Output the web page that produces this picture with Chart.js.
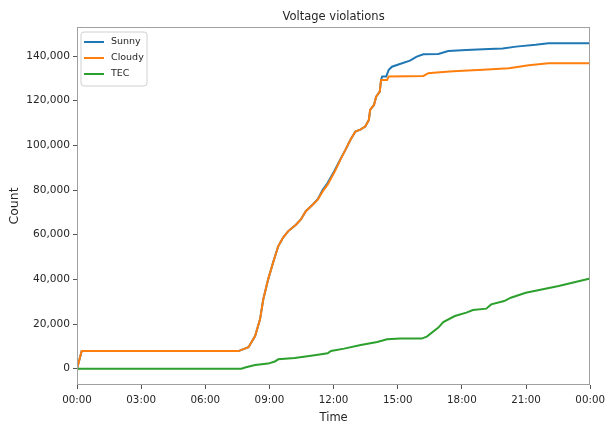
<!DOCTYPE html>
<html>
<head>
<meta charset="utf-8">
<script src="https://cdn.jsdelivr.net/npm/chart.js@4.4.1/dist/chart.umd.min.js"></script>
<style>
  html, body { margin: 0; padding: 0; background: #fff; }
  #wrap { width: 610px; height: 425px; }
</style>
</head>
<body>
<div id="wrap"><canvas id="chart" width="610" height="425"></canvas></div>
<script>
// Cumulative voltage violation counts over one day (time in hours since 00:00)
const sunnyHours = [0, 0.22, 7.55, 8.02, 8.33, 8.56, 8.71, 8.94, 9.17, 9.41, 9.64, 9.87, 10.24, 10.47, 10.70, 11.03, 11.26, 11.49, 11.72, 12.03, 12.32, 12.56, 12.79, 13.02, 13.25, 13.48, 13.65, 13.71, 13.89, 13.99, 14.16, 14.22, 14.27, 14.46, 14.58, 14.73, 15.10, 15.57, 15.89, 16.20, 16.90, 17.36, 18.21, 19.27, 19.91, 20.53, 21.45, 22.05, 24];
const sunnyCounts = [0, 7900, 7900, 9600, 14650, 22100, 31000, 40000, 47500, 54800, 58700, 61500, 64500, 66800, 70500, 73500, 75900, 80100, 83100, 88400, 93800, 98100, 102500, 106200, 107000, 108400, 111400, 115900, 118100, 121800, 124100, 129300, 130800, 130800, 133800, 135200, 136400, 137900, 139700, 140800, 140900, 142200, 142700, 143100, 143400, 144200, 145000, 145700, 145700];

const cloudyHours = [0, 0.22, 7.55, 8.02, 8.33, 8.56, 8.71, 8.94, 9.17, 9.41, 9.64, 9.87, 10.24, 10.47, 10.70, 11.03, 11.26, 11.49, 11.72, 12.03, 12.32, 12.56, 12.79, 13.02, 13.25, 13.48, 13.65, 13.71, 13.89, 13.99, 14.16, 14.22, 14.50, 14.58, 16.20, 16.43, 16.82, 17.59, 18.98, 20.20, 21.13, 22.05, 24];
const cloudyCounts = [0, 7900, 7900, 9600, 14650, 22100, 31000, 40000, 47500, 54800, 58700, 61500, 64500, 66800, 70500, 73500, 75700, 79400, 82400, 87800, 93600, 98100, 102500, 106200, 107000, 108400, 111400, 115900, 118100, 121800, 124100, 129300, 129300, 130800, 131100, 132300, 132600, 133200, 133800, 134500, 135900, 136800, 136800];

const tecHours = [0, 7.69, 7.86, 8.33, 8.94, 9.25, 9.41, 10.18, 11.11, 11.72, 11.88, 12.49, 13.27, 14.04, 14.50, 15.12, 16.12, 16.36, 16.90, 17.13, 17.67, 18.21, 18.52, 19.14, 19.37, 19.98, 20.29, 20.99, 22.53, 23.31, 24];
const tecCounts = [0, 0, 540, 1700, 2300, 3200, 4200, 4800, 6000, 6900, 7950, 9000, 10600, 12000, 13200, 13500, 13500, 14400, 18400, 20900, 23600, 25100, 26300, 26900, 28800, 30300, 31800, 34000, 37000, 38800, 40400];

const seriesNames = ['Sunny', 'Cloudy', 'TEC'];
const seriesColors = ['#1f77b4', '#ff7f0e', '#2ca02c'];

const xTickHours = [0, 3, 6, 9, 12, 15, 18, 21, 24];
const xTickLabels = ['00:00', '03:00', '06:00', '09:00', '12:00', '15:00', '18:00', '21:00', '00:00'];
const yTicks = [0, 20000, 40000, 60000, 80000, 100000, 120000, 140000];

const FONT = "'DejaVu Sans', sans-serif";
const TEXT = '#262626';
const SPINE = '#a0a0a0';

const toPoints = (xs, ys) => xs.map((x, i) => ({ x: x, y: ys[i] }));

// Frame around the axes (all four spines)
const framePlugin = {
  id: 'frame',
  afterDatasetsDraw(chart) {
    const { ctx, chartArea: a } = chart;
    ctx.save();
    ctx.strokeStyle = SPINE;
    ctx.lineWidth = 1;
    ctx.strokeRect(Math.round(a.left) + 0.5, Math.round(a.top) + 0.5,
                   Math.round(a.right - a.left) - 1, Math.round(a.bottom - a.top) - 1);
    ctx.restore();
  }
};

// Boxed legend in the upper-left corner of the axes
const boxLegend = {
  id: 'boxLegend',
  afterDraw(chart) {
    const { ctx, chartArea: a } = chart;
    const x0 = a.left + 4, y0 = a.top + 5, w = 66, h = 54, r = 3;
    ctx.save();
    ctx.beginPath();
    ctx.moveTo(x0 + r, y0);
    ctx.arcTo(x0 + w, y0, x0 + w, y0 + h, r);
    ctx.arcTo(x0 + w, y0 + h, x0, y0 + h, r);
    ctx.arcTo(x0, y0 + h, x0, y0, r);
    ctx.arcTo(x0, y0, x0 + w, y0, r);
    ctx.closePath();
    ctx.fillStyle = 'rgba(255,255,255,0.8)';
    ctx.fill();
    ctx.strokeStyle = '#d0d0d0';
    ctx.lineWidth = 1;
    ctx.stroke();
    ctx.font = '9.5px ' + FONT;
    ctx.textBaseline = 'middle';
    ctx.textAlign = 'left';
    chart.data.datasets.forEach((ds, i) => {
      const y = y0 + 10 + i * 16;
      ctx.beginPath();
      ctx.moveTo(x0 + 3, y);
      ctx.lineTo(x0 + 23, y);
      ctx.strokeStyle = ds.borderColor;
      ctx.lineWidth = 2;
      ctx.stroke();
      ctx.fillStyle = TEXT;
      ctx.fillText(ds.label, x0 + 30, y);
    });
    ctx.restore();
  }
};

const makeSet = (i, xs, ys, order) => ({
  label: seriesNames[i],
  data: toPoints(xs, ys),
  borderColor: seriesColors[i],
  backgroundColor: seriesColors[i],
  borderWidth: 2,
  pointRadius: 0,
  tension: 0,
  fill: false,
  order: order
});

new Chart(document.getElementById('chart'), {
  type: 'line',
  data: {
    datasets: [
      makeSet(0, sunnyHours, sunnyCounts, 2),
      makeSet(1, cloudyHours, cloudyCounts, 1),
      makeSet(2, tecHours, tecCounts, 0)
    ]
  },
  options: {
    responsive: false,
    animation: false,
    events: [],
    layout: { padding: { left: 0, right: 15, top: 0, bottom: 0 } },
    plugins: {
      legend: { display: false },
      tooltip: { enabled: false },
      title: {
        display: true,
        text: 'Voltage violations',
        fullSize: false,
        color: TEXT,
        font: { family: FONT, size: 11.5, weight: 'normal' },
        padding: { top: 10, bottom: 3.2 }
      }
    },
    scales: {
      x: {
        type: 'linear',
        min: 0,
        max: 24,
        afterBuildTicks: s => { s.ticks = xTickHours.map(v => ({ value: v })); },
        afterFit: s => { s.height = 40; },
        ticks: {
          autoSkip: false,
          maxRotation: 0,
          padding: 5,
          color: TEXT,
          font: { family: FONT, size: 10.3 },
          callback: (v) => xTickLabels[xTickHours.indexOf(v)]
        },
        grid: { display: true, drawOnChartArea: false, drawTicks: true, tickLength: 4, tickColor: '#555' },
        border: { display: false },
        title: {
          display: true, text: 'Time', color: TEXT,
          font: { family: FONT, size: 11.5 },
          padding: { top: 0, bottom: 0 }
        }
      },
      y: {
        type: 'linear',
        min: -7285,
        max: 152985,
        afterBuildTicks: s => { s.ticks = yTicks.map(v => ({ value: v })); },
        afterFit: s => { s.width = 77; },
        ticks: {
          padding: 3,
          color: TEXT,
          font: { family: FONT, size: 10.6 },
          callback: (v) => v.toLocaleString('en-US')
        },
        grid: { display: true, drawOnChartArea: false, drawTicks: true, tickLength: 4, tickColor: '#555' },
        border: { display: false },
        title: {
          display: true, text: 'Count', color: TEXT,
          font: { family: FONT, size: 12.5 },
          padding: { top: 7.5, bottom: 0 }
        }
      }
    }
  },
  plugins: [framePlugin, boxLegend]
});
</script>
</body>
</html>
